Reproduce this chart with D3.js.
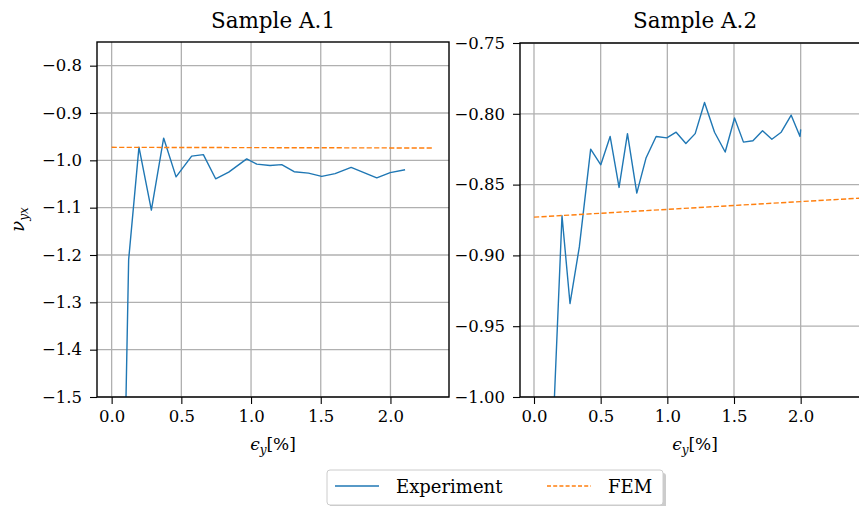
<!DOCTYPE html>
<html>
<head>
<meta charset="utf-8">
<title>Sample A.1 / A.2</title>
<script src="https://cdn.jsdelivr.net/npm/d3@7"></script>
<style>
  body { margin: 0; background: #fff; }
  .grid line { stroke: #b0b0b0; stroke-width: 1.3; }
  .axis path { display: none; }
  .axis line { stroke: #000; stroke-width: 1.1; }
</style>
</head>
<body>
<svg id="chart" width="859" height="506"></svg>
<script>
// Sample A.1 -- experiment (strain in %, nu_yx)
const expA1_x = [0.09, 0.122, 0.196, 0.285, 0.373, 0.462, 0.574, 0.658, 0.746, 0.840, 0.969,
                 1.041, 1.136, 1.220, 1.309, 1.412, 1.507, 1.603, 1.718, 1.902, 1.998, 2.105]
const expA1_y = [-1.70, -1.21, -0.972, -1.105, -0.953, -1.035, -0.991, -0.988, -1.039, -1.025, -0.997,
                 -1.008, -1.011, -1.009, -1.024, -1.027, -1.034, -1.028, -1.015, -1.037, -1.026, -1.020]
const femA1_x = [0.0, 0.77, 1.54, 2.31]
const femA1_y = [-0.9725, -0.9730, -0.9735, -0.9740]

// Sample A.2 -- experiment
const expA2_x = [0.14, 0.210, 0.270, 0.340, 0.425, 0.501, 0.571, 0.638, 0.701, 0.771, 0.841,
                 0.916, 0.996, 1.066, 1.139, 1.209, 1.279, 1.354, 1.434, 1.504, 1.571, 1.642,
                 1.714, 1.784, 1.854, 1.929, 1.995, 2.0]
const expA2_y = [-1.03, -0.872, -0.934, -0.894, -0.825, -0.836, -0.816, -0.852, -0.814, -0.856, -0.831,
                 -0.816, -0.817, -0.813, -0.821, -0.814, -0.792, -0.813, -0.827, -0.803, -0.820, -0.819,
                 -0.812, -0.818, -0.813, -0.801, -0.816, -0.811]
const femA2_x = [0.0, 1.0, 2.0, 2.55]
const femA2_y = [-0.8730, -0.8675, -0.8620, -0.8590]

const xTicks = [0.0, 0.5, 1.0, 1.5, 2.0]
const yTicksA1 = [-1.5, -1.4, -1.3, -1.2, -1.1, -1.0, -0.9, -0.8]
const yTicksA2 = [-1.00, -0.95, -0.90, -0.85, -0.80, -0.75]

const titles = ["Sample A.1", "Sample A.2"]
const legendLabels = ["Experiment", "FEM"]
const colors = { exp: "#1f77b4", fem: "#ff7f0e" }

const FONT = "'DejaVu Serif', serif"
const svg = d3.select("#chart").style("font-family", FONT)

const panels = [
  { title: titles[0], box: { left: 97, right: 449, top: 42, bottom: 397 },
    xDomain: [-0.105, 2.42], yDomain: [-1.5, -0.75], yTicks: yTicksA1, yFmt: ".1f",
    exp: d3.zip(expA1_x, expA1_y), fem: d3.zip(femA1_x, femA1_y), ylabel: true },
  { title: titles[1], box: { left: 520, right: 870, top: 43, bottom: 397 },
    xDomain: [-0.105, 2.52], yDomain: [-1.0, -0.75], yTicks: yTicksA2, yFmt: ".2f",
    exp: d3.zip(expA2_x, expA2_y), fem: d3.zip(femA2_x, femA2_y), ylabel: false }
]

panels.forEach((p, i) => {
  const b = p.box
  const x = d3.scaleLinear().domain(p.xDomain).range([b.left, b.right])
  const y = d3.scaleLinear().domain(p.yDomain).range([b.bottom, b.top])
  const g = svg.append("g")

  g.append("clipPath").attr("id", "clip" + i)
    .append("rect")
    .attr("x", b.left).attr("y", b.top)
    .attr("width", b.right - b.left).attr("height", b.bottom - b.top)

  // grid
  const grid = g.append("g").attr("class", "grid")
  grid.selectAll(".gx").data(xTicks).join("line")
    .attr("x1", d => x(d)).attr("x2", d => x(d))
    .attr("y1", b.top).attr("y2", b.bottom)
  grid.selectAll(".gy").data(p.yTicks).join("line")
    .attr("x1", b.left).attr("x2", b.right)
    .attr("y1", d => y(d)).attr("y2", d => y(d))

  const line = d3.line().x(d => x(d[0])).y(d => y(d[1]))
  const plot = g.append("g").attr("clip-path", `url(#clip${i})`)
  plot.append("path").datum(p.exp)
    .attr("d", line).attr("fill", "none")
    .attr("stroke", colors.exp).attr("stroke-width", 1.4)
    .attr("stroke-linejoin", "round")
  plot.append("path").datum(p.fem)
    .attr("d", line).attr("fill", "none")
    .attr("stroke", colors.fem).attr("stroke-width", 1.4)
    .attr("stroke-dasharray", "5.2,2.3")

  // frame
  g.append("rect")
    .attr("x", b.left).attr("y", b.top)
    .attr("width", b.right - b.left).attr("height", b.bottom - b.top)
    .attr("fill", "none").attr("stroke", "#000").attr("stroke-width", 1.4)

  g.append("g").attr("class", "axis")
    .attr("transform", `translate(0,${b.bottom})`)
    .call(d3.axisBottom(x).tickValues(xTicks).tickFormat(d3.format(".1f")).tickSize(7).tickPadding(6))
    .call(a => a.attr("font-family", null))
    .selectAll("text").style("font-size", "16.5px").style("font-family", FONT)

  g.append("g").attr("class", "axis")
    .attr("transform", `translate(${b.left},0)`)
    .call(d3.axisLeft(y).tickValues(p.yTicks).tickFormat(d3.format(p.yFmt)).tickSize(7).tickPadding(8))
    .call(a => a.attr("font-family", null))
    .selectAll("text").style("font-size", "16.5px").style("font-family", FONT)

  g.append("text")
    .attr("x", (b.left + b.right) / 2).attr("y", 28)
    .attr("text-anchor", "middle").style("font-size", "21.5px")
    .text(p.title)

  const xl = g.append("text")
    .attr("x", (b.left + b.right) / 2).attr("y", 450)
    .attr("text-anchor", "middle").style("font-size", "17px")
  xl.append("tspan").style("font-style", "italic").text("ϵ")
  xl.append("tspan").style("font-style", "italic").style("font-size", "12px").attr("dy", 4).text("y")
  xl.append("tspan").attr("dy", -4).text("[%]")

  if (p.ylabel) {
    const yl = g.append("text")
      .attr("transform", `translate(24,${(b.top + b.bottom) / 2}) rotate(-90)`)
      .attr("text-anchor", "middle").style("font-size", "18px")
    yl.append("tspan").style("font-style", "italic").text("ν")
    yl.append("tspan").style("font-style", "italic").style("font-size", "12px").attr("dy", 4).text("yx")
  }
})

// legend
const leg = svg.append("g").attr("transform", "translate(327,470)")
leg.append("rect").attr("x", 3).attr("y", 3).attr("width", 336).attr("height", 35)
  .attr("rx", 3).attr("fill", "#999").attr("opacity", 0.5)
leg.append("rect").attr("x", 0).attr("y", 0).attr("width", 336).attr("height", 35)
  .attr("rx", 3).attr("fill", "#fff").attr("stroke", "#ccc").attr("stroke-width", 1)
const items = [
  { label: legendLabels[0], color: colors.exp, dash: null, x: 8 },
  { label: legendLabels[1], color: colors.fem, dash: "4,2.2", x: 220 }
]
items.forEach(it => {
  leg.append("line").attr("x1", it.x).attr("x2", it.x + 44).attr("y1", 16).attr("y2", 16)
    .attr("stroke", it.color).attr("stroke-width", 1.4).attr("stroke-dasharray", it.dash)
  leg.append("text").attr("x", it.x + 61).attr("y", 23).style("font-size", "18px").text(it.label)
})
</script>
</body>
</html>
